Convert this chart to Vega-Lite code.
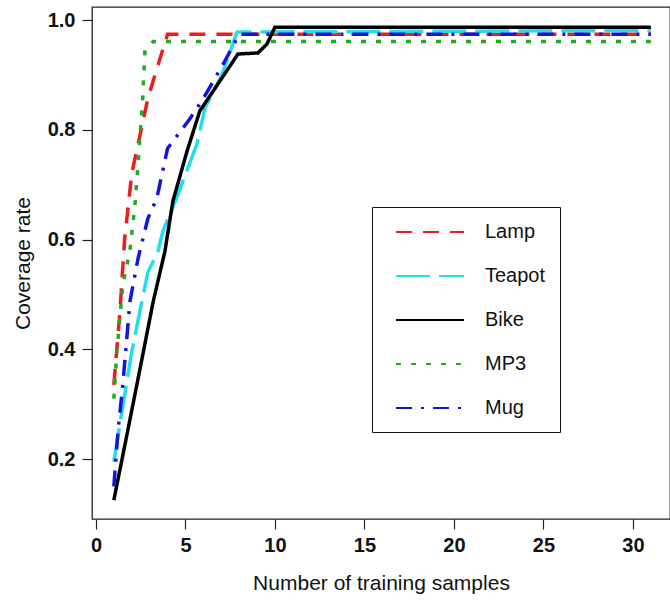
{
  "$schema": "https://vega.github.io/schema/vega-lite/v6.json",
  "autosize": {"type": "none"},
  "padding": {"left": 92, "top": 7, "right": 0, "bottom": 85},
  "width": 578,
  "height": 512,
  "background": "white",
  "config": {
    "view": {"stroke": "#222222", "strokeWidth": 1.3},
    "font": "Liberation Sans"
  },
  "data": {
    "values": [
      {"series": "Lamp", "x": 1, "y": 0.335},
      {"series": "Lamp", "x": 1.34, "y": 0.468},
      {"series": "Lamp", "x": 1.6, "y": 0.6},
      {"series": "Lamp", "x": 2, "y": 0.72},
      {"series": "Lamp", "x": 2.46, "y": 0.79},
      {"series": "Lamp", "x": 2.9, "y": 0.857},
      {"series": "Lamp", "x": 3.58, "y": 0.93},
      {"series": "Lamp", "x": 4, "y": 0.974},
      {"series": "Lamp", "x": 31, "y": 0.974},
      {"series": "Teapot", "x": 1, "y": 0.195},
      {"series": "Teapot", "x": 1.45, "y": 0.286},
      {"series": "Teapot", "x": 2, "y": 0.395},
      {"series": "Teapot", "x": 2.46, "y": 0.47},
      {"series": "Teapot", "x": 2.9, "y": 0.54},
      {"series": "Teapot", "x": 3.46, "y": 0.578},
      {"series": "Teapot", "x": 3.74, "y": 0.615},
      {"series": "Teapot", "x": 4.58, "y": 0.682},
      {"series": "Teapot", "x": 5.64, "y": 0.774},
      {"series": "Teapot", "x": 6.1, "y": 0.84},
      {"series": "Teapot", "x": 7.04, "y": 0.9},
      {"series": "Teapot", "x": 7.88, "y": 0.978},
      {"series": "Teapot", "x": 31, "y": 0.981},
      {"series": "Bike", "x": 1, "y": 0.125},
      {"series": "Bike", "x": 1.73, "y": 0.244},
      {"series": "Bike", "x": 2.46, "y": 0.364},
      {"series": "Bike", "x": 3.2, "y": 0.487},
      {"series": "Bike", "x": 3.85, "y": 0.578},
      {"series": "Bike", "x": 4.3, "y": 0.67},
      {"series": "Bike", "x": 5.08, "y": 0.76},
      {"series": "Bike", "x": 5.8, "y": 0.834},
      {"series": "Bike", "x": 6.54, "y": 0.87},
      {"series": "Bike", "x": 7.3, "y": 0.907},
      {"series": "Bike", "x": 7.93, "y": 0.938},
      {"series": "Bike", "x": 9.05, "y": 0.94},
      {"series": "Bike", "x": 9.55, "y": 0.956},
      {"series": "Bike", "x": 10, "y": 0.987},
      {"series": "Bike", "x": 31, "y": 0.987},
      {"series": "MP3", "x": 1, "y": 0.31},
      {"series": "MP3", "x": 1.17, "y": 0.395},
      {"series": "MP3", "x": 1.5, "y": 0.518},
      {"series": "MP3", "x": 1.9, "y": 0.58},
      {"series": "MP3", "x": 2.2, "y": 0.67},
      {"series": "MP3", "x": 2.4, "y": 0.76},
      {"series": "MP3", "x": 2.6, "y": 0.85},
      {"series": "MP3", "x": 2.74, "y": 0.945},
      {"series": "MP3", "x": 3.2, "y": 0.961},
      {"series": "MP3", "x": 31, "y": 0.961},
      {"series": "Mug", "x": 1, "y": 0.15},
      {"series": "Mug", "x": 1.23, "y": 0.25},
      {"series": "Mug", "x": 1.5, "y": 0.335},
      {"series": "Mug", "x": 1.9, "y": 0.487},
      {"series": "Mug", "x": 2.35, "y": 0.565},
      {"series": "Mug", "x": 2.9, "y": 0.638},
      {"series": "Mug", "x": 3.4, "y": 0.675},
      {"series": "Mug", "x": 4, "y": 0.766},
      {"series": "Mug", "x": 5.25, "y": 0.82},
      {"series": "Mug", "x": 6, "y": 0.857},
      {"series": "Mug", "x": 7.2, "y": 0.925},
      {"series": "Mug", "x": 8, "y": 0.974},
      {"series": "Mug", "x": 31, "y": 0.974}
    ]
  },
  "mark": {"type": "line", "strokeWidth": 3.5, "clip": true},
  "encoding": {
    "x": {
      "field": "x",
      "type": "quantitative",
      "scale": {"domain": [-0.22, 32.07], "nice": false, "zero": false},
      "axis": {
        "values": [0, 5, 10, 15, 20, 25, 30],
        "title": "Number of training samples",
        "grid": false,
        "domain": false,
        "tickColor": "#222222",
        "tickSize": 10,
        "tickWidth": 1.2,
        "labelFontSize": 20,
        "labelFontWeight": "bold",
        "labelColor": "#111111",
        "labelPadding": 6,
        "titleFontSize": 21,
        "titleFontWeight": "normal",
        "titleColor": "#111111",
        "titlePadding": 17
      }
    },
    "y": {
      "field": "y",
      "type": "quantitative",
      "scale": {"domain": [0.0907, 1.0237], "nice": false, "zero": false},
      "axis": {
        "values": [0.2, 0.4, 0.6, 0.8, 1.0],
        "format": ".1f",
        "title": "Coverage rate",
        "grid": false,
        "domain": false,
        "tickColor": "#222222",
        "tickSize": 10,
        "tickWidth": 1.2,
        "labelFontSize": 20,
        "labelFontWeight": "bold",
        "labelColor": "#111111",
        "labelPadding": 7,
        "titleFontSize": 21,
        "titleFontWeight": "normal",
        "titleColor": "#111111",
        "titlePadding": 14
      }
    },
    "color": {
      "field": "series",
      "type": "nominal",
      "sort": ["Lamp", "Teapot", "Bike", "MP3", "Mug"],
      "scale": {
        "domain": ["Lamp", "Teapot", "Bike", "MP3", "Mug"],
        "range": ["#ee1c1c", "#22ddee", "#000000", "#22aa22", "#1414dd"]
      },
      "legend": {
        "title": null,
        "orient": "none",
        "legendX": 280,
        "legendY": 200,
        "direction": "vertical",
        "symbolType": "M-3.4,0L3.4,0",
        "symbolSize": 400,
        "symbolStrokeWidth": 2,
        "labelFontSize": 20,
        "labelColor": "#111111",
        "labelOffset": 44,
        "rowPadding": 23,
        "padding": 14,
        "symbolOffset": 33,
        "strokeColor": "#111111",
        "fillColor": "white"
      }
    },
    "strokeDash": {
      "field": "series",
      "type": "nominal",
      "sort": ["Lamp", "Teapot", "Bike", "MP3", "Mug"],
      "scale": {
        "domain": ["Lamp", "Teapot", "Bike", "MP3", "Mug"],
        "range": [[16, 11], [34, 9], [1, 0], [5, 10], [16, 9, 3, 9]]
      },
      "legend": null
    }
  }
}
